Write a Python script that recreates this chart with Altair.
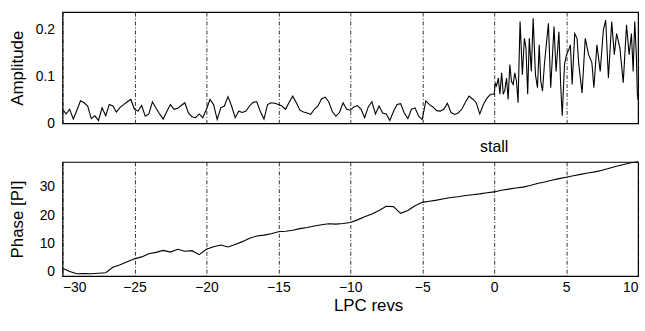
import altair as alt
import numpy as np
import pandas as pd

# ---- data ----
# Amplitude before stall: samples every 0.25 rev from -30 to -0.25
amp_pre = [
    0.030, 0.020, 0.030, 0.009,
    0.028, 0.048, 0.044, 0.037,
    0.010, 0.016, 0.006, 0.033,
    0.016, 0.040, 0.037, 0.024,
    0.034, 0.040, 0.046, 0.051,
    0.030, 0.026, 0.038, 0.015,
    0.020, 0.046, 0.032, 0.020,
    0.009, 0.025, 0.040, 0.030,
    0.032, 0.038, 0.044, 0.022,
    0.014, 0.012, 0.020, 0.012,
    0.030, 0.051, 0.040, 0.008,
    0.033, 0.037, 0.057, 0.037,
    0.012, 0.026, 0.023, 0.026,
    0.037, 0.045, 0.046, 0.025,
    0.009, 0.040, 0.044, 0.043,
    0.040, 0.037, 0.030, 0.045,
    0.058, 0.044, 0.028, 0.024,
    0.022, 0.019, 0.030, 0.037,
    0.052, 0.056, 0.046, 0.025,
    0.015, 0.023, 0.044, 0.030,
    0.028, 0.035, 0.038, 0.030,
    0.012, 0.035, 0.046, 0.020,
    0.037, 0.022, 0.020, 0.006,
    0.025, 0.040, 0.042, 0.022,
    0.010, 0.030, 0.033, 0.015,
    0.008, 0.048, 0.040, 0.035,
    0.027, 0.026, 0.030, 0.043,
    0.023, 0.019, 0.022, 0.030,
    0.045, 0.058, 0.052, 0.044,
    0.020, 0.040, 0.054, 0.062,
]
revs_pre = list(np.arange(-30, 0, 0.25))

# Amplitude after stall: peaks and troughs
revs_post = [0.00, 0.08, 0.17, 0.29, 0.40, 0.52, 0.63, 0.74, 0.86, 0.97,
             1.09, 1.20, 1.32, 1.43, 1.55, 1.66, 1.80, 1.96, 2.10, 2.21,
             2.33, 2.44, 2.58, 2.71, 2.87, 3.01, 3.13, 3.24, 3.36, 3.49,
             3.77, 3.93, 4.16, 4.30, 4.50, 4.62, 4.73, 4.89, 5.03, 5.19,
             5.30, 5.42, 5.60, 5.76, 5.88, 6.11, 6.33, 6.56, 6.79, 6.93,
             7.14, 7.37, 7.59, 7.75, 7.94, 8.17, 8.35, 8.51, 8.74, 8.97,
             9.20, 9.38, 9.54, 9.66, 9.77, 9.88, 9.95, 10.00]
amp_post = [0.062, 0.087, 0.080, 0.097, 0.062, 0.108, 0.062, 0.071, 0.097, 0.051,
            0.126, 0.090, 0.083, 0.108, 0.090, 0.044, 0.218, 0.104, 0.182, 0.161,
            0.062, 0.182, 0.111, 0.225, 0.104, 0.076, 0.168, 0.090, 0.069, 0.126,
            0.214, 0.076, 0.207, 0.111, 0.196, 0.083, 0.016, 0.126, 0.147, 0.158,
            0.168, 0.083, 0.192, 0.182, 0.126, 0.065, 0.182, 0.147, 0.130, 0.076,
            0.168, 0.111, 0.200, 0.221, 0.097, 0.218, 0.147, 0.192, 0.161, 0.087,
            0.211, 0.147, 0.192, 0.111, 0.218, 0.147, 0.062, 0.050]

# Phase: samples every 0.5 rev from -30 to 10
phase_vals = [
    1.2, 0.0, -0.8, -0.7, -0.8, -0.6, -0.4, 1.5, 2.4, 3.5,
    4.5, 5.2, 6.3, 6.8, 7.5, 6.9, 7.9, 7.2, 7.4, 6.0,
    7.9, 8.8, 9.4, 8.7, 9.6, 10.6, 11.8, 12.6, 12.9, 13.4,
    14.1, 14.3, 14.6, 15.2, 15.6, 16.1, 16.6, 16.9, 16.8, 17.0,
    17.4, 18.3, 19.4, 20.4, 21.6, 23.1, 23.0, 20.6, 21.6, 23.3,
    24.5, 24.9, 25.3, 25.8, 26.2, 26.5, 26.9, 27.2, 27.5, 27.9,
    28.2, 28.8, 29.2, 29.6, 29.9, 30.5, 31.2, 31.7, 32.3, 32.9,
    33.4, 33.9, 34.4, 34.9, 35.3, 35.9, 36.6, 37.3, 37.9, 38.5,
    38.9,
]
phase_revs = list(np.arange(-30, 10.001, 0.5))

x_ticks = [-30, -25, -20, -15, -10, -5, 0, 5, 10]
amp_ticks = [0, 0.1, 0.2]
phase_ticks = [0, 10, 20, 30]
annot = ["stall"]
annot_x = [0]

amp_df = pd.DataFrame({"rev": revs_pre + revs_post, "amp": amp_pre + amp_post})
phase_df = pd.DataFrame({"rev": phase_revs, "phase": phase_vals})
annot_df = pd.DataFrame({"rev": annot_x, "label": annot})

FONT = "Liberation Sans"
xscale = alt.Scale(domain=[-30, 10], nice=False, zero=False)

grid_kw = dict(grid=True, gridColor="black", gridDash=[4, 2, 1, 2], gridWidth=0.8,
               gridOpacity=1, ticks=False, domain=False)
lab_kw = dict(labelFont=FONT, titleFont=FONT, labelFontSize=14, titleFontSize=17,
              labelColor="black", titleColor="black", titleFontWeight="normal")

top = alt.Chart(amp_df).mark_line(color="black", strokeWidth=1.1).encode(
    x=alt.X("rev:Q", scale=xscale,
            axis=alt.Axis(values=x_ticks, labels=False, title=None, **grid_kw)),
    y=alt.Y("amp:Q", scale=alt.Scale(domain=[0, 0.238], nice=False),
            axis=alt.Axis(values=amp_ticks, title="Amplitude", grid=False,
                          ticks=False, domain=False,
                          labelExpr="datum.value == 0 ? '0' : format(datum.value, '.1f')",
                          labelPadding=8, minExtent=30, maxExtent=30,
                          titlePadding=6, **lab_kw)),
).properties(width=580, height=112)

phase_line = alt.Chart(phase_df).mark_line(color="black", strokeWidth=1.1).encode(
    x=alt.X("rev:Q", scale=xscale,
            axis=alt.Axis(values=x_ticks, title="LPC revs", labelPadding=5,
                          titlePadding=3, titleX=308, **grid_kw, **lab_kw)),
    y=alt.Y("phase:Q", scale=alt.Scale(domain=[-1.6, 38.8], nice=False),
            axis=alt.Axis(values=phase_ticks, title="Phase [PI]", grid=False,
                          ticks=False, domain=False, labelPadding=8,
                          minExtent=30, maxExtent=30, titlePadding=6, **lab_kw)),
)

stall_text = alt.Chart(annot_df).mark_text(
    font=FONT, fontSize=16, color="black", baseline="middle", align="center"
).encode(
    x=alt.X("rev:Q", scale=xscale),
    y=alt.value(-15),
    text="label:N",
)

bottom = alt.layer(phase_line, stall_text).properties(width=580, height=115)

chart = alt.vconcat(top, bottom, spacing=39, bounds="flush").properties(
    padding={"left": 8, "top": 10, "right": 4, "bottom": 0},
    background="white",
).configure_view(
    stroke="black", strokeWidth=1.2
)

chart.save("out.html", embed_options={"renderer": "svg", "actions": False})
